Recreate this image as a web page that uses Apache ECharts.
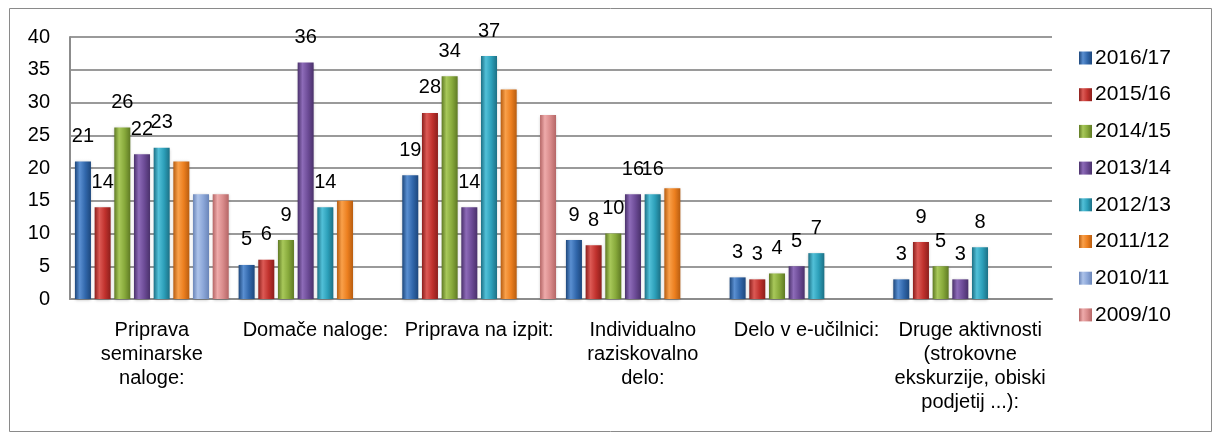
<!DOCTYPE html>
<html>
<head>
<meta charset="utf-8">
<script src="https://cdn.jsdelivr.net/npm/echarts@6/dist/echarts.min.js"></script>
<style>
html,body{margin:0;padding:0;background:#fff;}
#chart{width:1214px;height:436px;}
</style>
</head>
<body>
<div id="chart"></div>
<script>
const categories = [
  'Priprava\nseminarske\nnaloge:',
  'Domače naloge:',
  'Priprava na izpit:',
  'Individualno\nraziskovalno\ndelo:',
  'Delo v e-učilnici:',
  'Druge aktivnosti\n(strokovne\nekskurzije, obiski\npodjetij ...):'
];
const seriesNames = ['2016/17','2015/16','2014/15','2013/14','2012/13','2011/12','2010/11','2009/10'];
const v2016_17 = [21, 5.2, 18.9, 9, 3.3, 3];
const v2015_16 = [14, 6, 28.4, 8.2, 3, 8.7];
const v2014_15 = [26.2, 9, 34, 10, 3.9, 5];
const v2013_14 = [22.1, 36.1, 14, 16, 5, 3];
const v2012_13 = [23.1, 14, 37.1, 16, 7, 7.9];
const v2011_12 = [21, 15, 32, 16.9, null, null];
const v2010_11 = [16, null, null, null, null, null];
const v2009_10 = [16, null, 28.1, null, null, null];
const yTicks = { min: 0, max: 40, interval: 5 };

const allValues = [v2016_17, v2015_16, v2014_15, v2013_14, v2012_13, v2011_12, v2010_11, v2009_10];
const labelled = [true, true, true, true, true, false, false, false];
const palette = [
  ['#1d477c', '#5a8fd1', '#3167ab'],
  ['#8c1f1c', '#dc5a55', '#c0312d'],
  ['#5f7a24', '#a8c85a', '#87a93b'],
  ['#4a316b', '#8d6bb8', '#6c4b96'],
  ['#1c7085', '#52c0d8', '#2c9fb9'],
  ['#b85d10', '#f9a04a', '#ec7f1f'],
  ['#6a85b8', '#adc3ea', '#8ba6d8'],
  ['#b56666', '#eeaaaa', '#d88a8a']
];
function grad(p) {
  return new echarts.graphic.LinearGradient(0, 0, 1, 0, [
    { offset: 0, color: p[0] },
    { offset: 0.3, color: p[1] },
    { offset: 0.65, color: p[2] },
    { offset: 1, color: p[0] }
  ]);
}
const FONT = '"Liberation Sans", Arial, sans-serif';
const chart = echarts.init(document.getElementById('chart'), null, { renderer: 'canvas' });
const series = seriesNames.map((name, i) => ({
  name: name,
  type: 'bar',
  data: allValues[i],
  barWidth: 16,
  barGap: '23%',
  itemStyle: { color: grad(palette[i]), shadowColor: 'rgba(0,0,0,0.25)', shadowBlur: 3, shadowOffsetY: 1 },
  label: {
    show: labelled[i],
    position: 'top',
    distance: 15,
    color: '#000',
    fontFamily: FONT,
    fontSize: 20,
    formatter: p => Math.round(p.value)
  },
  emphasis: { disabled: true },
  animation: false
}));
chart.setOption({
  animation: false,
  backgroundColor: '#fff',
  textStyle: { fontFamily: FONT },
  graphic: [{
    type: 'rect',
    shape: { x: 9.5, y: 8.5, width: 1202, height: 423 },
    style: { fill: 'none', stroke: '#8a8a8a', lineWidth: 1 },
    silent: true
  }],
  grid: { left: 70, right: 162, top: 37, bottom: 137 },
  legend: {
    orient: 'vertical',
    left: 1074,
    top: 42,
    itemWidth: 13,
    itemHeight: 13,
    itemGap: 14.7,
    icon: 'rect',
    textStyle: { color: '#000', fontFamily: FONT, fontSize: 21, lineHeight: 22, padding: [0, 0, 0, -2] },
    data: seriesNames.map((n, i) => ({ name: n, itemStyle: { color: grad(palette[i]) } }))
  },
  xAxis: {
    type: 'category',
    data: categories,
    axisLine: { lineStyle: { color: '#8c8c8c', width: 2 } },
    axisTick: { show: false },
    axisLabel: { interval: 0, color: '#000', fontFamily: FONT, fontSize: 20, lineHeight: 24, margin: 19 }
  },
  yAxis: {
    type: 'value',
    min: yTicks.min,
    max: yTicks.max,
    interval: yTicks.interval,
    axisLine: { show: true, lineStyle: { color: '#8c8c8c', width: 2 } },
    axisTick: { show: false },
    splitLine: { lineStyle: { color: '#9a9a9a', width: 2 } },
    axisLabel: { color: '#000', fontFamily: FONT, fontSize: 20, margin: 20 }
  },
  series: series
});
</script>
</body>
</html>
